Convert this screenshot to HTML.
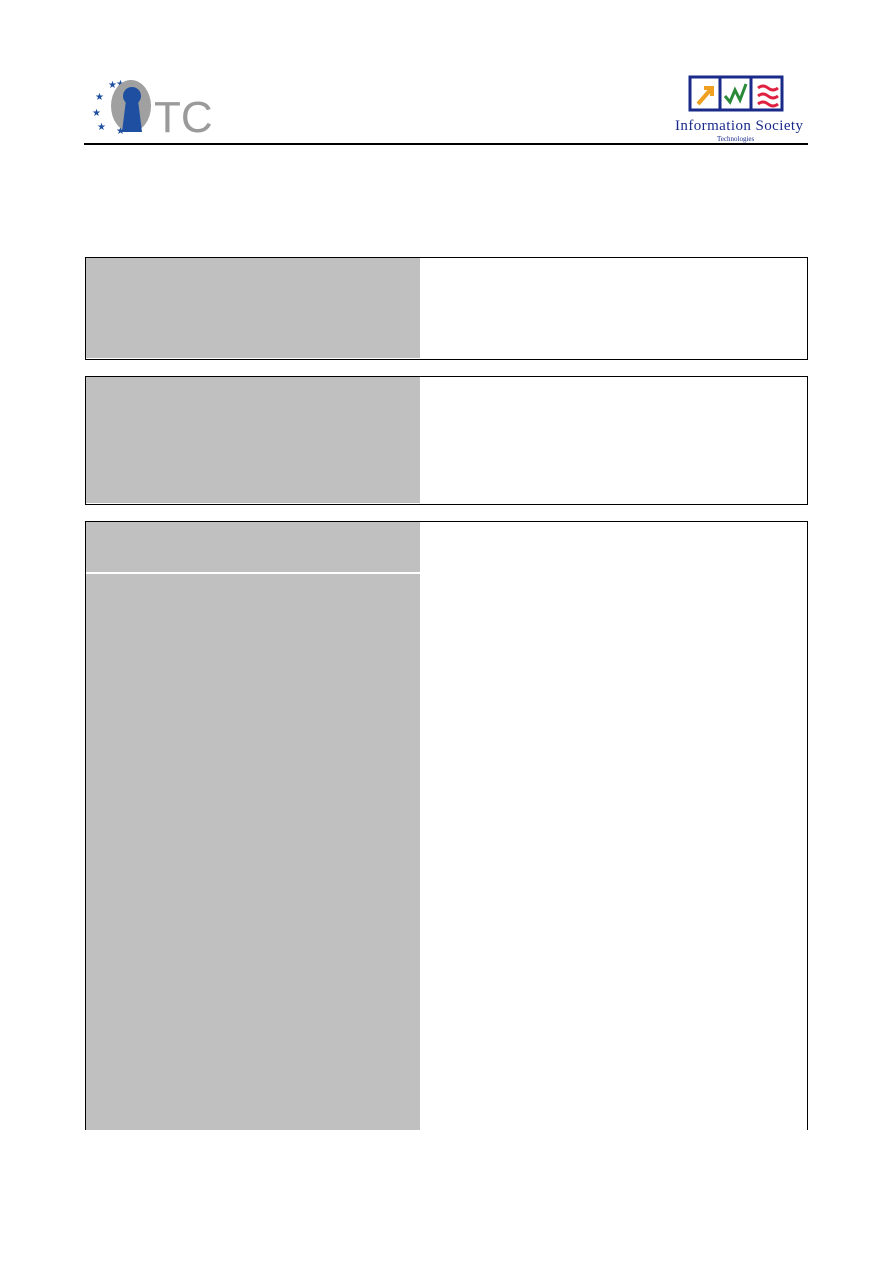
<!DOCTYPE html>
<html><head><meta charset="utf-8"><style>
body{margin:0;width:893px;height:1263px;background:#fff;position:relative;overflow:hidden;font-family:"Liberation Sans",sans-serif}
.a{position:absolute}
.box{position:absolute;border:1.5px solid #000;box-sizing:border-box;background:#fff}
.g{position:absolute;left:0;top:0;background:#c0c0c0}
</style></head><body>
<div class="a" style="left:88px;top:78px;width:130px;height:58px">
<svg width="130" height="58">
<g fill="#1f4fa0" font-size="10"><text x="20" y="10">★</text><text x="28" y="9">★</text><text x="7" y="22">★</text><text x="4" y="38">★</text><text x="9" y="52">★</text><text x="28" y="56">★</text></g>
<ellipse cx="43" cy="28" rx="20" ry="26" fill="#a0a0a0"/>
<circle cx="44" cy="18" r="9" fill="#1f4fa0"/>
<path d="M38 22 L34 54 L54 54 L50 22 Z" fill="#1f4fa0"/>
<text x="66" y="54" font-size="44" fill="#9a9a9a" font-family="Liberation Sans">TC</text>
</svg></div>
<div class="a" style="left:670px;top:74px;width:145px;height:70px">
<svg width="145" height="70">
<rect x="20" y="3" width="92" height="33" fill="none" stroke="#1a2a8a" stroke-width="3"/>
<line x1="50" y1="3" x2="50" y2="36" stroke="#1a2a8a" stroke-width="3"/>
<line x1="81" y1="3" x2="81" y2="36" stroke="#1a2a8a" stroke-width="3"/>
<path d="M28 30 L42 14 M34 14 L42 14 L42 22" stroke="#f0a020" stroke-width="4" fill="none"/>
<path d="M55 22 L60 28 L65 16 L70 26 L76 10" stroke="#2a8a3a" stroke-width="3" fill="none"/>
<path d="M88 14 q5 -4 10 0 t10 0 M88 22 q5 -4 10 0 t10 0 M88 30 q5 -4 10 0 t10 0" stroke="#e02040" stroke-width="3" fill="none"/>
<text x="5" y="56" font-size="15" fill="#1a2a8a" font-family="Liberation Serif" textLength="128">Information Society</text>
<text x="47" y="67" font-size="7" fill="#1a2a8a" font-family="Liberation Serif">Technologies</text>
</svg></div>
<div class="a" style="left:84px;top:143px;width:724px;height:1.5px;background:#000"></div>
<div class="box" style="left:85px;top:257px;width:723px;height:103px"><div class="g" style="width:334px;height:100px"></div></div>
<div class="box" style="left:85px;top:376px;width:723px;height:129px"><div class="g" style="width:334px;height:126px"></div></div>
<div class="box" style="left:85px;top:521px;width:723px;height:620px;border-bottom:none"><div class="g" style="width:334px;height:50px"></div><div class="g" style="top:52px;width:334px;height:557px"></div></div>
<div class="a" style="left:0;top:1130px;width:893px;height:140px;background:#fff"></div>
</body></html>
